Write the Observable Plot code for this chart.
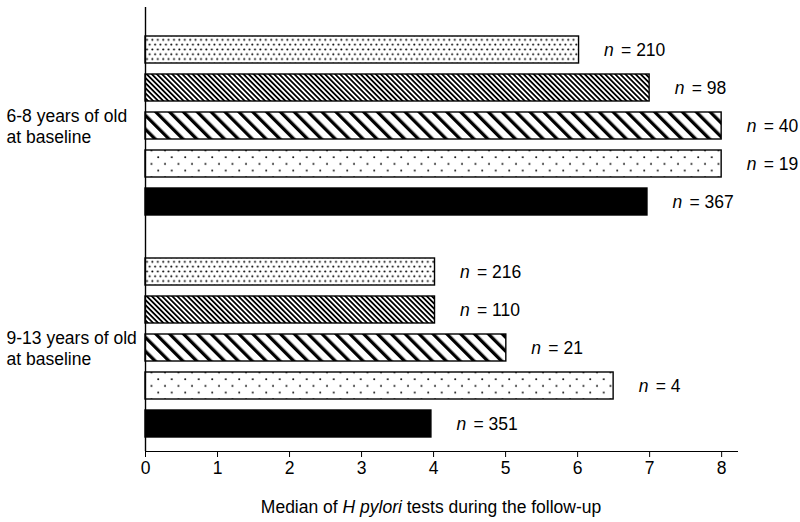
<!DOCTYPE html>
<html><head><meta charset="utf-8">
<script src="https://cdn.jsdelivr.net/npm/d3@7"></script>
<script src="https://cdn.jsdelivr.net/npm/@observablehq/plot@0.6"></script>
<style>
body{margin:0;background:#fff;}
#chart svg{display:block;}
</style>
</head><body><div id="chart"></div>
<script>
// ---- data ----
const groups = ["6-8 years of old\nat baseline", "9-13 years of old\nat baseline"];
const series = ["dense dots", "fine hatch", "wide hatch", "sparse dots", "solid"];
const values68 = [6.02, 7.0, 8.0, 8.0, 6.97];
const values913 = [4.02, 4.02, 5.01, 6.5, 3.97];
const n68 = [210, 98, 40, 19, 367];
const n913 = [216, 110, 21, 4, 351];
const xTicks = [0, 1, 2, 3, 4, 5, 6, 7, 8];
const xLabelParts = ["Median of ", "H pylori", " tests during the follow-up"];

const fills = {
  "dense dots": "url(#p-dense)",
  "fine hatch": "url(#p-fine)",
  "wide hatch": "url(#p-wide)",
  "sparse dots": "url(#p-sparse)",
  "solid": "black"
};

const rows = [];
series.forEach((s, i) => {
  rows.push({group: groups[0], series: s, value: values68[i], n: n68[i]});
  rows.push({group: groups[1], series: s, value: values913[i], n: n913[i]});
});

const font = "'Liberation Sans', Arial, Helvetica, sans-serif";
const fs = 17.5;

const chart = Plot.plot({
  width: 800,
  height: 522,
  marginLeft: 145,
  marginRight: 63,
  marginTop: 7,
  marginBottom: 71,
  style: {fontFamily: font, fontSize: fs + "px", color: "black", background: "white"},
  x: {domain: [0, 8.22], ticks: xTicks, tickSize: 6, tickPadding: 4, line: true, label: null},
  y: {domain: series, axis: null, paddingInner: 0.28, paddingOuter: 0, insetTop: 29, insetBottom: 13},
  fy: {domain: groups, axis: null, paddingInner: 0, paddingOuter: 0},
  marks: [
    ...series.map(s => Plot.barX(rows.filter(d => d.series === s), {
      fy: "group", y: "series", x: "value",
      fill: fills[s], stroke: "black", strokeWidth: 1.4
    })),
    Plot.ruleX([0], {stroke: "black", strokeWidth: 1.4}),
    Plot.text(rows, {fy: "group", y: "series", x: "value", text: () => "n",
      fontStyle: "italic", textAnchor: "start", dx: 25, fill: "black", fontSize: fs}),
    Plot.text(rows, {fy: "group", y: "series", x: "value", text: d => "= " + d.n,
      textAnchor: "start", dx: 42, fill: "black", fontSize: fs}),
    Plot.text(groups, {fy: d => d, y: () => series[2], text: d => d,
      frameAnchor: "left", textAnchor: "start", dx: -139, lineHeight: 1.15,
      fill: "black", fontSize: fs})
  ]
});

// pattern definitions
const defs = d3.create("svg:defs");
// dense dots
const pd = defs.append("pattern").attr("id", "p-dense").attr("patternUnits", "userSpaceOnUse")
  .attr("width", 5.4).attr("height", 9.6);
pd.append("rect").attr("width", 5.4).attr("height", 9.6).attr("fill", "white");
pd.append("circle").attr("cx", 1.2).attr("cy", 1.5).attr("r", 1).attr("fill", "black");
pd.append("circle").attr("cx", 3.9).attr("cy", 6.3).attr("r", 1).attr("fill", "black");
// fine hatch "\"
const pf = defs.append("pattern").attr("id", "p-fine").attr("patternUnits", "userSpaceOnUse")
  .attr("width", 3.6).attr("height", 10).attr("patternTransform", "rotate(-45)");
pf.append("rect").attr("width", 3.6).attr("height", 10).attr("fill", "white");
pf.append("rect").attr("width", 1.8).attr("height", 10).attr("fill", "black");
// wide hatch "\"
const pw = defs.append("pattern").attr("id", "p-wide").attr("patternUnits", "userSpaceOnUse")
  .attr("width", 9.8).attr("height", 10).attr("patternTransform", "rotate(-45)");
pw.append("rect").attr("width", 9.8).attr("height", 10).attr("fill", "white");
pw.append("rect").attr("width", 3.3).attr("height", 10).attr("fill", "black");
// sparse dots
const ps = defs.append("pattern").attr("id", "p-sparse").attr("patternUnits", "userSpaceOnUse")
  .attr("width", 13.5).attr("height", 13.4);
ps.append("rect").attr("width", 13.5).attr("height", 13.4).attr("fill", "white");
ps.append("circle").attr("cx", 3).attr("cy", 3).attr("r", 0.95).attr("fill", "black");
ps.append("circle").attr("cx", 9.75).attr("cy", 9.7).attr("r", 0.95).attr("fill", "black");
chart.insertBefore(defs.node(), chart.firstChild);

// x-axis label with italic species name
const xs = chart.scale("x");
const cx = (xs.apply(0) + xs.apply(8)) / 2 - 2;
const lab = d3.select(chart).append("text")
  .attr("x", cx).attr("y", 513).attr("text-anchor", "middle")
  .attr("fill", "black").style("font-size", fs + "px").style("font-family", font);
lab.append("tspan").text(xLabelParts[0]);
lab.append("tspan").attr("font-style", "italic").text(xLabelParts[1]);
lab.append("tspan").text(xLabelParts[2]);

document.getElementById("chart").appendChild(chart);
</script>
</body></html>
